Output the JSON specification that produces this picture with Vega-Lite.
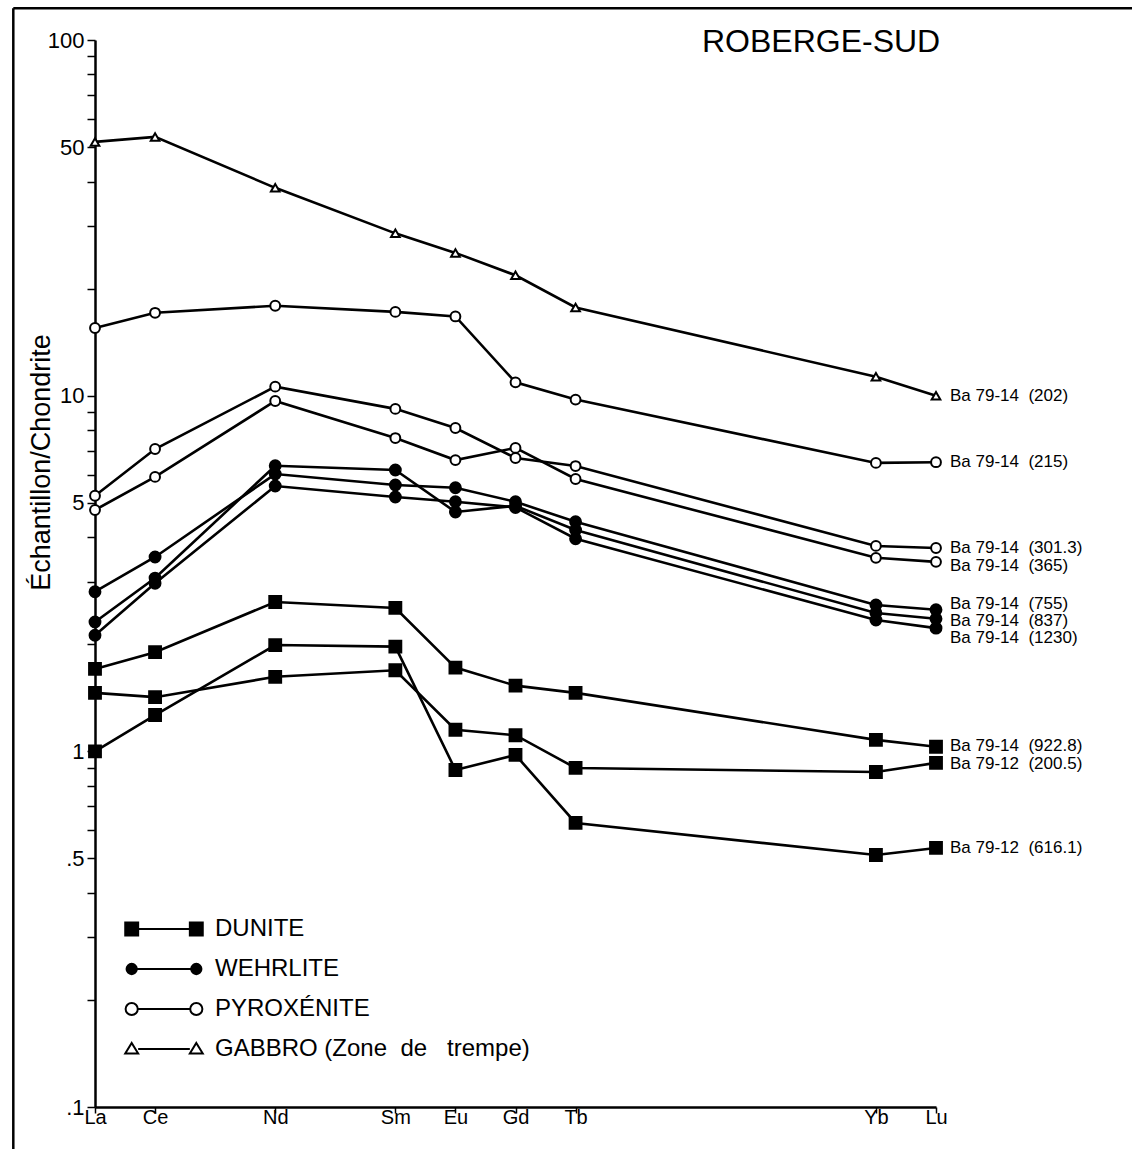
{
  "$schema": "https://vega.github.io/schema/vega-lite/v6.json",
  "width": 841,
  "height": 1067,
  "autosize": {"type": "none"},
  "padding": {"left": 95, "top": 40, "right": 196, "bottom": 42},
  "background": "white",
  "config": {
    "font": "Liberation Sans",
    "view": {"stroke": null},
    "axis": {"domainColor": "black", "domainWidth": 2.5, "tickColor": "black", "tickWidth": 1.5, "labelColor": "black", "titleColor": "black", "grid": false, "labelFont": "Liberation Sans", "titleFont": "Liberation Sans"}
  },
  "datasets": {
    "ree": [
      {"s": "Ba 79-14\u00a0\u00a0(202)", "t": "GABBRO\u00a0(Zone\u00a0\u00a0de\u00a0\u00a0\u00a0trempe)", "e": "La", "z": 57, "v": 51.7},
      {"s": "Ba 79-14\u00a0\u00a0(202)", "t": "GABBRO\u00a0(Zone\u00a0\u00a0de\u00a0\u00a0\u00a0trempe)", "e": "Ce", "z": 58, "v": 53.4},
      {"s": "Ba 79-14\u00a0\u00a0(202)", "t": "GABBRO\u00a0(Zone\u00a0\u00a0de\u00a0\u00a0\u00a0trempe)", "e": "Nd", "z": 60, "v": 38.4},
      {"s": "Ba 79-14\u00a0\u00a0(202)", "t": "GABBRO\u00a0(Zone\u00a0\u00a0de\u00a0\u00a0\u00a0trempe)", "e": "Sm", "z": 62, "v": 28.6},
      {"s": "Ba 79-14\u00a0\u00a0(202)", "t": "GABBRO\u00a0(Zone\u00a0\u00a0de\u00a0\u00a0\u00a0trempe)", "e": "Eu", "z": 63, "v": 25.2},
      {"s": "Ba 79-14\u00a0\u00a0(202)", "t": "GABBRO\u00a0(Zone\u00a0\u00a0de\u00a0\u00a0\u00a0trempe)", "e": "Gd", "z": 64, "v": 21.8},
      {"s": "Ba 79-14\u00a0\u00a0(202)", "t": "GABBRO\u00a0(Zone\u00a0\u00a0de\u00a0\u00a0\u00a0trempe)", "e": "Tb", "z": 65, "v": 17.7},
      {"s": "Ba 79-14\u00a0\u00a0(202)", "t": "GABBRO\u00a0(Zone\u00a0\u00a0de\u00a0\u00a0\u00a0trempe)", "e": "Yb", "z": 70, "v": 11.3},
      {"s": "Ba 79-14\u00a0\u00a0(202)", "t": "GABBRO\u00a0(Zone\u00a0\u00a0de\u00a0\u00a0\u00a0trempe)", "e": "Lu", "z": 71, "v": 10.0},

      {"s": "Ba 79-14\u00a0\u00a0(215)", "t": "PYROXÉNITE", "e": "La", "z": 57, "v": 15.5},
      {"s": "Ba 79-14\u00a0\u00a0(215)", "t": "PYROXÉNITE", "e": "Ce", "z": 58, "v": 17.1},
      {"s": "Ba 79-14\u00a0\u00a0(215)", "t": "PYROXÉNITE", "e": "Nd", "z": 60, "v": 17.9},
      {"s": "Ba 79-14\u00a0\u00a0(215)", "t": "PYROXÉNITE", "e": "Sm", "z": 62, "v": 17.2},
      {"s": "Ba 79-14\u00a0\u00a0(215)", "t": "PYROXÉNITE", "e": "Eu", "z": 63, "v": 16.7},
      {"s": "Ba 79-14\u00a0\u00a0(215)", "t": "PYROXÉNITE", "e": "Gd", "z": 64, "v": 10.9},
      {"s": "Ba 79-14\u00a0\u00a0(215)", "t": "PYROXÉNITE", "e": "Tb", "z": 65, "v": 9.75},
      {"s": "Ba 79-14\u00a0\u00a0(215)", "t": "PYROXÉNITE", "e": "Yb", "z": 70, "v": 6.47},
      {"s": "Ba 79-14\u00a0\u00a0(215)", "t": "PYROXÉNITE", "e": "Lu", "z": 71, "v": 6.5},

      {"s": "Ba 79-14\u00a0\u00a0(301.3)", "t": "PYROXÉNITE", "e": "La", "z": 57, "v": 5.23},
      {"s": "Ba 79-14\u00a0\u00a0(301.3)", "t": "PYROXÉNITE", "e": "Ce", "z": 58, "v": 7.08},
      {"s": "Ba 79-14\u00a0\u00a0(301.3)", "t": "PYROXÉNITE", "e": "Nd", "z": 60, "v": 10.6},
      {"s": "Ba 79-14\u00a0\u00a0(301.3)", "t": "PYROXÉNITE", "e": "Sm", "z": 62, "v": 9.18},
      {"s": "Ba 79-14\u00a0\u00a0(301.3)", "t": "PYROXÉNITE", "e": "Eu", "z": 63, "v": 8.11},
      {"s": "Ba 79-14\u00a0\u00a0(301.3)", "t": "PYROXÉNITE", "e": "Gd", "z": 64, "v": 6.68},
      {"s": "Ba 79-14\u00a0\u00a0(301.3)", "t": "PYROXÉNITE", "e": "Tb", "z": 65, "v": 6.34},
      {"s": "Ba 79-14\u00a0\u00a0(301.3)", "t": "PYROXÉNITE", "e": "Yb", "z": 70, "v": 3.78},
      {"s": "Ba 79-14\u00a0\u00a0(301.3)", "t": "PYROXÉNITE", "e": "Lu", "z": 71, "v": 3.73},

      {"s": "Ba 79-14\u00a0\u00a0(365)", "t": "PYROXÉNITE", "e": "La", "z": 57, "v": 4.77},
      {"s": "Ba 79-14\u00a0\u00a0(365)", "t": "PYROXÉNITE", "e": "Ce", "z": 58, "v": 5.91},
      {"s": "Ba 79-14\u00a0\u00a0(365)", "t": "PYROXÉNITE", "e": "Nd", "z": 60, "v": 9.66},
      {"s": "Ba 79-14\u00a0\u00a0(365)", "t": "PYROXÉNITE", "e": "Sm", "z": 62, "v": 7.6},
      {"s": "Ba 79-14\u00a0\u00a0(365)", "t": "PYROXÉNITE", "e": "Eu", "z": 63, "v": 6.59},
      {"s": "Ba 79-14\u00a0\u00a0(365)", "t": "PYROXÉNITE", "e": "Gd", "z": 64, "v": 7.13},
      {"s": "Ba 79-14\u00a0\u00a0(365)", "t": "PYROXÉNITE", "e": "Tb", "z": 65, "v": 5.83},
      {"s": "Ba 79-14\u00a0\u00a0(365)", "t": "PYROXÉNITE", "e": "Yb", "z": 70, "v": 3.5},
      {"s": "Ba 79-14\u00a0\u00a0(365)", "t": "PYROXÉNITE", "e": "Lu", "z": 71, "v": 3.41},

      {"s": "Ba 79-14\u00a0\u00a0(755)", "t": "WEHRLITE", "e": "La", "z": 57, "v": 2.81},
      {"s": "Ba 79-14\u00a0\u00a0(755)", "t": "WEHRLITE", "e": "Ce", "z": 58, "v": 3.52},
      {"s": "Ba 79-14\u00a0\u00a0(755)", "t": "WEHRLITE", "e": "Nd", "z": 60, "v": 6.02},
      {"s": "Ba 79-14\u00a0\u00a0(755)", "t": "WEHRLITE", "e": "Sm", "z": 62, "v": 5.61},
      {"s": "Ba 79-14\u00a0\u00a0(755)", "t": "WEHRLITE", "e": "Eu", "z": 63, "v": 5.51},
      {"s": "Ba 79-14\u00a0\u00a0(755)", "t": "WEHRLITE", "e": "Gd", "z": 64, "v": 5.03},
      {"s": "Ba 79-14\u00a0\u00a0(755)", "t": "WEHRLITE", "e": "Tb", "z": 65, "v": 4.42},
      {"s": "Ba 79-14\u00a0\u00a0(755)", "t": "WEHRLITE", "e": "Yb", "z": 70, "v": 2.58},
      {"s": "Ba 79-14\u00a0\u00a0(755)", "t": "WEHRLITE", "e": "Lu", "z": 71, "v": 2.5},

      {"s": "Ba 79-14\u00a0\u00a0(837)", "t": "WEHRLITE", "e": "La", "z": 57, "v": 2.31},
      {"s": "Ba 79-14\u00a0\u00a0(837)", "t": "WEHRLITE", "e": "Ce", "z": 58, "v": 3.07},
      {"s": "Ba 79-14\u00a0\u00a0(837)", "t": "WEHRLITE", "e": "Nd", "z": 60, "v": 6.35},
      {"s": "Ba 79-14\u00a0\u00a0(837)", "t": "WEHRLITE", "e": "Sm", "z": 62, "v": 6.18},
      {"s": "Ba 79-14\u00a0\u00a0(837)", "t": "WEHRLITE", "e": "Eu", "z": 63, "v": 4.71},
      {"s": "Ba 79-14\u00a0\u00a0(837)", "t": "WEHRLITE", "e": "Gd", "z": 64, "v": 4.9},
      {"s": "Ba 79-14\u00a0\u00a0(837)", "t": "WEHRLITE", "e": "Tb", "z": 65, "v": 4.19},
      {"s": "Ba 79-14\u00a0\u00a0(837)", "t": "WEHRLITE", "e": "Yb", "z": 70, "v": 2.45},
      {"s": "Ba 79-14\u00a0\u00a0(837)", "t": "WEHRLITE", "e": "Lu", "z": 71, "v": 2.36},

      {"s": "Ba 79-14\u00a0\u00a0(1230)", "t": "WEHRLITE", "e": "La", "z": 57, "v": 2.12},
      {"s": "Ba 79-14\u00a0\u00a0(1230)", "t": "WEHRLITE", "e": "Ce", "z": 58, "v": 2.97},
      {"s": "Ba 79-14\u00a0\u00a0(1230)", "t": "WEHRLITE", "e": "Nd", "z": 60, "v": 5.57},
      {"s": "Ba 79-14\u00a0\u00a0(1230)", "t": "WEHRLITE", "e": "Sm", "z": 62, "v": 5.19},
      {"s": "Ba 79-14\u00a0\u00a0(1230)", "t": "WEHRLITE", "e": "Eu", "z": 63, "v": 5.03},
      {"s": "Ba 79-14\u00a0\u00a0(1230)", "t": "WEHRLITE", "e": "Gd", "z": 64, "v": 4.85},
      {"s": "Ba 79-14\u00a0\u00a0(1230)", "t": "WEHRLITE", "e": "Tb", "z": 65, "v": 3.96},
      {"s": "Ba 79-14\u00a0\u00a0(1230)", "t": "WEHRLITE", "e": "Yb", "z": 70, "v": 2.34},
      {"s": "Ba 79-14\u00a0\u00a0(1230)", "t": "WEHRLITE", "e": "Lu", "z": 71, "v": 2.22},

      {"s": "Ba 79-14\u00a0\u00a0(922.8)", "t": "DUNITE", "e": "La", "z": 57, "v": 1.705},
      {"s": "Ba 79-14\u00a0\u00a0(922.8)", "t": "DUNITE", "e": "Ce", "z": 58, "v": 1.9},
      {"s": "Ba 79-14\u00a0\u00a0(922.8)", "t": "DUNITE", "e": "Nd", "z": 60, "v": 2.63},
      {"s": "Ba 79-14\u00a0\u00a0(922.8)", "t": "DUNITE", "e": "Sm", "z": 62, "v": 2.53},
      {"s": "Ba 79-14\u00a0\u00a0(922.8)", "t": "DUNITE", "e": "Eu", "z": 63, "v": 1.72},
      {"s": "Ba 79-14\u00a0\u00a0(922.8)", "t": "DUNITE", "e": "Gd", "z": 64, "v": 1.53},
      {"s": "Ba 79-14\u00a0\u00a0(922.8)", "t": "DUNITE", "e": "Tb", "z": 65, "v": 1.46},
      {"s": "Ba 79-14\u00a0\u00a0(922.8)", "t": "DUNITE", "e": "Yb", "z": 70, "v": 1.077},
      {"s": "Ba 79-14\u00a0\u00a0(922.8)", "t": "DUNITE", "e": "Lu", "z": 71, "v": 1.03},

      {"s": "Ba 79-12\u00a0\u00a0(200.5)", "t": "DUNITE", "e": "La", "z": 57, "v": 1.46},
      {"s": "Ba 79-12\u00a0\u00a0(200.5)", "t": "DUNITE", "e": "Ce", "z": 58, "v": 1.42},
      {"s": "Ba 79-12\u00a0\u00a0(200.5)", "t": "DUNITE", "e": "Nd", "z": 60, "v": 1.62},
      {"s": "Ba 79-12\u00a0\u00a0(200.5)", "t": "DUNITE", "e": "Sm", "z": 62, "v": 1.69},
      {"s": "Ba 79-12\u00a0\u00a0(200.5)", "t": "DUNITE", "e": "Eu", "z": 63, "v": 1.15},
      {"s": "Ba 79-12\u00a0\u00a0(200.5)", "t": "DUNITE", "e": "Gd", "z": 64, "v": 1.11},
      {"s": "Ba 79-12\u00a0\u00a0(200.5)", "t": "DUNITE", "e": "Tb", "z": 65, "v": 0.898},
      {"s": "Ba 79-12\u00a0\u00a0(200.5)", "t": "DUNITE", "e": "Yb", "z": 70, "v": 0.875},
      {"s": "Ba 79-12\u00a0\u00a0(200.5)", "t": "DUNITE", "e": "Lu", "z": 71, "v": 0.928},

      {"s": "Ba 79-12\u00a0\u00a0(616.1)", "t": "DUNITE", "e": "La", "z": 57, "v": 1.0},
      {"s": "Ba 79-12\u00a0\u00a0(616.1)", "t": "DUNITE", "e": "Ce", "z": 58, "v": 1.265},
      {"s": "Ba 79-12\u00a0\u00a0(616.1)", "t": "DUNITE", "e": "Nd", "z": 60, "v": 1.99},
      {"s": "Ba 79-12\u00a0\u00a0(616.1)", "t": "DUNITE", "e": "Sm", "z": 62, "v": 1.97},
      {"s": "Ba 79-12\u00a0\u00a0(616.1)", "t": "DUNITE", "e": "Eu", "z": 63, "v": 0.886},
      {"s": "Ba 79-12\u00a0\u00a0(616.1)", "t": "DUNITE", "e": "Gd", "z": 64, "v": 0.977},
      {"s": "Ba 79-12\u00a0\u00a0(616.1)", "t": "DUNITE", "e": "Tb", "z": 65, "v": 0.629},
      {"s": "Ba 79-12\u00a0\u00a0(616.1)", "t": "DUNITE", "e": "Yb", "z": 70, "v": 0.511},
      {"s": "Ba 79-12\u00a0\u00a0(616.1)", "t": "DUNITE", "e": "Lu", "z": 71, "v": 0.535}
    ]
  },
  "data": {"name": "ree"},
  "layer": [
    {
      "data": {"values": [{}]},
      "mark": {"type": "rule", "color": "black", "strokeWidth": 2.5},
      "encoding": {
        "x": {"datum": 55.64, "type": "quantitative", "scale": {"domain": [57, 71], "nice": false, "zero": false}},
        "x2": {"datum": 74.3},
        "y": {"datum": 122.8, "type": "quantitative", "scale": {"type": "log", "domain": [0.1, 100], "nice": false}}
      }
    },
    {
      "data": {"values": [{}]},
      "mark": {"type": "rule", "color": "black", "strokeWidth": 2.5},
      "encoding": {
        "x": {"datum": 55.64, "type": "quantitative", "scale": {"domain": [57, 71], "nice": false, "zero": false}},
        "y": {"datum": 122.8, "type": "quantitative", "scale": {"type": "log", "domain": [0.1, 100], "nice": false}},
        "y2": {"datum": 0.0762}
      }
    },
    {
      "data": {"values": [{}]},
      "mark": {"type": "text", "align": "right", "baseline": "alphabetic", "fontSize": 32, "color": "black", "font": "Liberation Sans"},
      "encoding": {
        "text": {"value": "ROBERGE-SUD"},
        "x": {"datum": 71.07, "type": "quantitative", "scale": {"domain": [57, 71], "nice": false, "zero": false}},
        "y": {"datum": 92.5, "type": "quantitative", "scale": {"type": "log", "domain": [0.1, 100], "nice": false}}
      }
    },
    {
      "mark": {"type": "line", "color": "black", "strokeWidth": 2.6},
      "encoding": {
        "x": {
          "field": "z", "type": "quantitative",
          "scale": {"domain": [57, 71], "nice": false, "zero": false},
          "axis": {
            "title": null,
            "values": [57, 58, 60, 62, 63, 64, 65, 70, 71],
            "labelExpr": "datum.value==57?'La':datum.value==58?'Ce':datum.value==60?'Nd':datum.value==62?'Sm':datum.value==63?'Eu':datum.value==64?'Gd':datum.value==65?'Tb':datum.value==70?'Yb':'Lu'",
            "tickSize": 6,
            "labelFontSize": 20,
            "labelPadding": -6,
            "labelOverlap": false,
            "labelFlush": false
          }
        },
        "y": {
          "field": "v", "type": "quantitative",
          "scale": {"type": "log", "domain": [0.1, 100], "nice": false},
          "axis": {
            "title": "Échantillon/Chondrite",
            "titleFontSize": 27,
            "titleFontWeight": "normal",
            "titleAngle": -90,
            "titleAlign": "center",
            "titleBaseline": "middle",
            "titleX": -54,
            "titleY": 422,
            "values": [0.1, 0.2, 0.3, 0.4, 0.5, 0.6, 0.7, 0.8, 0.9, 1, 2, 3, 4, 5, 6, 7, 8, 9, 10, 20, 30, 40, 50, 60, 70, 80, 90, 100],
            "labelExpr": "datum.value==100?'100':datum.value==50?'50':datum.value==10?'10':datum.value==5?'5':datum.value==1?'1':datum.value==0.5?'.5':datum.value==0.1?'.1':''",
            "tickSize": 8,
            "labelFontSize": 22,
            "labelPadding": 3,
            "labelOverlap": false,
            "labelFlush": false
          }
        },
        "detail": {"field": "s"}
      }
    },
    {
      "mark": {"type": "point", "filled": true, "stroke": "black", "strokeWidth": 2, "opacity": 1},
      "encoding": {
        "x": {"field": "z", "type": "quantitative", "scale": {"domain": [57, 71], "nice": false, "zero": false}},
        "y": {"field": "v", "type": "quantitative", "scale": {"type": "log", "domain": [0.1, 100], "nice": false}},
        "shape": {"field": "t", "type": "nominal", "legend": null, "scale": {"domain": ["DUNITE", "WEHRLITE", "PYROXÉNITE", "GABBRO\u00a0(Zone\u00a0\u00a0de\u00a0\u00a0\u00a0trempe)"], "range": ["square", "circle", "circle", "triangle-up"]}},
        "fill": {"field": "t", "type": "nominal", "legend": null, "scale": {"domain": ["DUNITE", "WEHRLITE", "PYROXÉNITE", "GABBRO\u00a0(Zone\u00a0\u00a0de\u00a0\u00a0\u00a0trempe)"], "range": ["black", "black", "white", "white"]}},
        "size": {"field": "t", "type": "nominal", "legend": null, "scale": {"domain": ["DUNITE", "WEHRLITE", "PYROXÉNITE", "GABBRO\u00a0(Zone\u00a0\u00a0de\u00a0\u00a0\u00a0trempe)"], "range": [140, 75, 165, 420]}}
      }
    },
    {
      "transform": [{"filter": "datum.e == 'Lu' && indexof(datum.s, '(365)') < 0 && indexof(datum.s, '(755)') < 0 && indexof(datum.s, '(837)') < 0 && indexof(datum.s, '(1230)') < 0 && indexof(datum.s, '(922.8)') < 0 && indexof(datum.s, '(200.5)') < 0"}],
      "mark": {"type": "text", "align": "left", "baseline": "middle", "dx": 14, "fontSize": 17, "color": "black", "font": "Liberation Sans"},
      "encoding": {
        "x": {"field": "z", "type": "quantitative", "scale": {"domain": [57, 71], "nice": false, "zero": false}},
        "y": {"field": "v", "type": "quantitative", "scale": {"type": "log", "domain": [0.1, 100], "nice": false}},
        "text": {"field": "s"}
      }
    },
    {
      "transform": [{"filter": "datum.e == 'Lu' && indexof(datum.s, '(365)') >= 0"}],
      "mark": {"type": "text", "align": "left", "baseline": "middle", "dx": 14, "dy": 4, "fontSize": 17, "color": "black", "font": "Liberation Sans"},
      "encoding": {
        "x": {"field": "z", "type": "quantitative", "scale": {"domain": [57, 71], "nice": false, "zero": false}},
        "y": {"field": "v", "type": "quantitative", "scale": {"type": "log", "domain": [0.1, 100], "nice": false}},
        "text": {"field": "s"}
      }
    },
    {
      "transform": [{"filter": "datum.e == 'Lu' && indexof(datum.s, '(755)') >= 0"}],
      "mark": {"type": "text", "align": "left", "baseline": "middle", "dx": 14, "dy": -6, "fontSize": 17, "color": "black", "font": "Liberation Sans"},
      "encoding": {
        "x": {"field": "z", "type": "quantitative", "scale": {"domain": [57, 71], "nice": false, "zero": false}},
        "y": {"field": "v", "type": "quantitative", "scale": {"type": "log", "domain": [0.1, 100], "nice": false}},
        "text": {"field": "s"}
      }
    },
    {
      "transform": [{"filter": "datum.e == 'Lu' && indexof(datum.s, '(837)') >= 0"}],
      "mark": {"type": "text", "align": "left", "baseline": "middle", "dx": 14, "dy": 2, "fontSize": 17, "color": "black", "font": "Liberation Sans"},
      "encoding": {
        "x": {"field": "z", "type": "quantitative", "scale": {"domain": [57, 71], "nice": false, "zero": false}},
        "y": {"field": "v", "type": "quantitative", "scale": {"type": "log", "domain": [0.1, 100], "nice": false}},
        "text": {"field": "s"}
      }
    },
    {
      "transform": [{"filter": "datum.e == 'Lu' && indexof(datum.s, '(1230)') >= 0"}],
      "mark": {"type": "text", "align": "left", "baseline": "middle", "dx": 14, "dy": 10, "fontSize": 17, "color": "black", "font": "Liberation Sans"},
      "encoding": {
        "x": {"field": "z", "type": "quantitative", "scale": {"domain": [57, 71], "nice": false, "zero": false}},
        "y": {"field": "v", "type": "quantitative", "scale": {"type": "log", "domain": [0.1, 100], "nice": false}},
        "text": {"field": "s"}
      }
    },
    {
      "transform": [{"filter": "datum.e == 'Lu' && indexof(datum.s, '(922.8)') >= 0"}],
      "mark": {"type": "text", "align": "left", "baseline": "middle", "dx": 14, "dy": -1, "fontSize": 17, "color": "black", "font": "Liberation Sans"},
      "encoding": {
        "x": {"field": "z", "type": "quantitative", "scale": {"domain": [57, 71], "nice": false, "zero": false}},
        "y": {"field": "v", "type": "quantitative", "scale": {"type": "log", "domain": [0.1, 100], "nice": false}},
        "text": {"field": "s"}
      }
    },
    {
      "transform": [{"filter": "datum.e == 'Lu' && indexof(datum.s, '(200.5)') >= 0"}],
      "mark": {"type": "text", "align": "left", "baseline": "middle", "dx": 14, "dy": 1, "fontSize": 17, "color": "black", "font": "Liberation Sans"},
      "encoding": {
        "x": {"field": "z", "type": "quantitative", "scale": {"domain": [57, 71], "nice": false, "zero": false}},
        "y": {"field": "v", "type": "quantitative", "scale": {"type": "log", "domain": [0.1, 100], "nice": false}},
        "text": {"field": "s"}
      }
    },
    {
      "mark": {"type": "point", "filled": true, "opacity": 0, "strokeWidth": 2},
      "encoding": {
        "fill": {
          "field": "t", "type": "nominal",
          "scale": {"domain": ["DUNITE", "WEHRLITE", "PYROXÉNITE", "GABBRO\u00a0(Zone\u00a0\u00a0de\u00a0\u00a0\u00a0trempe)"], "range": ["black", "black", "white", "white"]},
          "legend": {"title": null}
        },
        "stroke": {
          "field": "t", "type": "nominal",
          "scale": {"domain": ["DUNITE", "WEHRLITE", "PYROXÉNITE", "GABBRO\u00a0(Zone\u00a0\u00a0de\u00a0\u00a0\u00a0trempe)"], "range": ["black", "black", "black", "black"]},
          "legend": {"title": null}
        },
        "shape": {
          "field": "t", "type": "nominal",
          "scale": {
            "domain": ["DUNITE", "WEHRLITE", "PYROXÉNITE", "GABBRO\u00a0(Zone\u00a0\u00a0de\u00a0\u00a0\u00a0trempe)"],
            "range": [
              "M-1.7 0H1.7M-2.04 -0.34H-1.36V0.34H-2.04ZM1.36 -0.34H2.04V0.34H1.36Z",
              "M-1.7 0H1.7M-1.97 0A0.27 0.27 0 1 0 -1.43 0A0.27 0.27 0 1 0 -1.97 0ZM1.43 0A0.27 0.27 0 1 0 1.97 0A0.27 0.27 0 1 0 1.43 0Z",
              "M-1.38 0H1.38M-2.02 0A0.32 0.32 0 1 0 -1.38 0A0.32 0.32 0 1 0 -2.02 0ZM1.38 0A0.32 0.32 0 1 0 2.02 0A0.32 0.32 0 1 0 1.38 0Z",
              "M-1.36 0H1.36M-1.7 -0.32L-1.36 0.24H-2.04ZM1.7 -0.32L2.04 0.24H1.36Z"
            ]
          },
          "legend": {
            "orient": "none",
            "legendX": 49,
            "legendY": 869,
            "title": null,
            "padding": 0,
            "rowPadding": 8,
            "symbolSize": 1444,
            "symbolStrokeWidth": 2,
            "symbolStrokeColor": "black",
            "symbolOpacity": 1,
            "labelFontSize": 24,
            "labelFont": "Liberation Sans",
            "labelColor": "black",
            "labelOffset": 31,
            "labelLimit": 0
          }
        }
      }
    }
  ],
  "resolve": {"scale": {"shape": "independent", "fill": "independent", "stroke": "independent"}}
}
